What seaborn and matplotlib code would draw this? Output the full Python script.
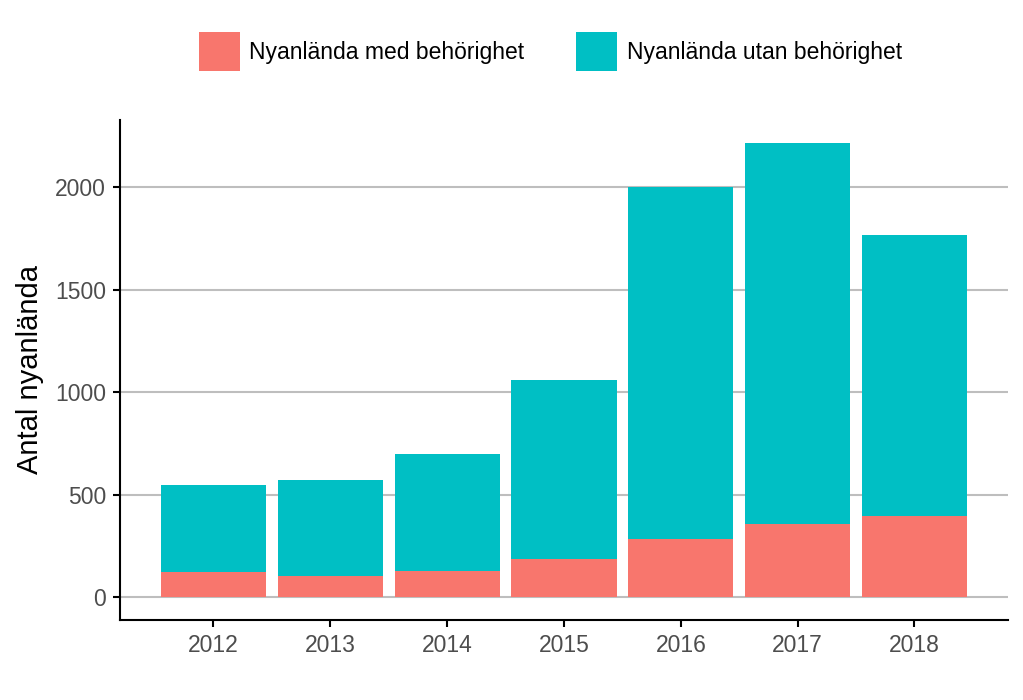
import pandas as pd
import matplotlib
matplotlib.use('Agg')
import matplotlib.pyplot as plt
import seaborn as sns
from matplotlib.patches import Patch

# Data
years = ['2012', '2013', '2014', '2015', '2016', '2017', '2018']
med_behorighet = [124, 106, 130, 185, 282, 355, 394]
utan_behorighet = [423, 467, 570, 875, 1718, 1862, 1375]
series_labels = ['Nyanlända med behörighet', 'Nyanlända utan behörighet']
colors = ['#F8766D', '#00BFC4']

df = pd.DataFrame({'year': years, 'med': med_behorighet, 'utan': utan_behorighet})
df['total'] = df['med'] + df['utan']

sns.set_style('white')
plt.rcParams['font.family'] = ['Liberation Sans', 'DejaVu Sans']

fig = plt.figure(figsize=(10.23, 7.0), dpi=100)
ax = fig.add_axes([0.1173, 0.1143, 0.868, 0.7143])

# stacked bars: total in teal, then the "med" part drawn over it
sns.barplot(data=df, x='year', y='total', color=colors[1], saturation=1,
            width=0.9, ax=ax, zorder=3, linewidth=0, edgecolor='none')
sns.barplot(data=df, x='year', y='med', color=colors[0], saturation=1,
            width=0.9, ax=ax, zorder=3, linewidth=0, edgecolor='none')

ax.set_xlim(-0.8, 6.8)
ax.set_ylim(-110.85, 2327.9)
ax.set_yticks([0, 500, 1000, 1500, 2000])
ax.yaxis.grid(True, color='#BEBEBE', linewidth=1.5, zorder=0)
ax.set_axisbelow(True)

for side in ['top', 'right']:
    ax.spines[side].set_visible(False)
for side in ['left', 'bottom']:
    ax.spines[side].set_color('black')
    ax.spines[side].set_linewidth(1.5)

ax.tick_params(axis='both', which='both', length=5, width=1.5, color='black',
               labelsize=16.5, labelcolor='#4D4D4D', pad=5, left=True, bottom=True)
ax.set_xlabel('')
ax.set_ylabel('Antal nyanlända', fontsize=21, color='black', labelpad=8)

handles = [Patch(facecolor=c, edgecolor='none', label=l) for c, l in zip(colors, series_labels)]
fig.legend(handles=handles, loc='upper center', bbox_to_anchor=(0.538, 0.984), ncol=2,
           frameon=False, fontsize=16.5, labelcolor='black', handlelength=1.8,
           handleheight=2.25, handletextpad=0.4, columnspacing=2.25)

fig.savefig('out.png', dpi=100)
